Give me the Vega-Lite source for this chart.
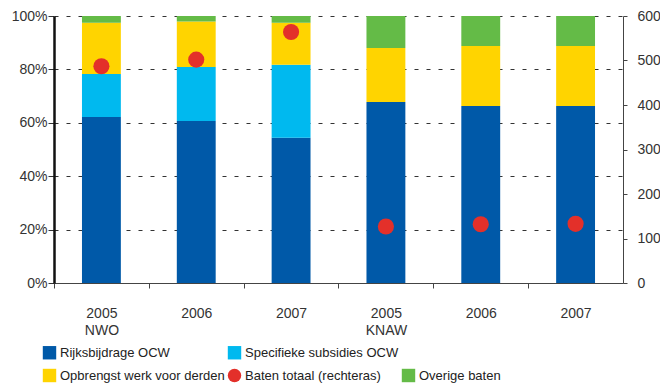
{
  "$schema": "https://vega.github.io/schema/vega-lite/v6.json",
  "width": 569,
  "height": 267,
  "autosize": {"type": "none"},
  "padding": {"left": 54, "top": 16, "right": 37, "bottom": 101},
  "background": "white",
  "config": {
    "view": {"stroke": null},
    "font": "Liberation Sans"
  },
  "data": {
    "values": [
      {"key": "NWO-2005", "series": "Rijksbijdrage OCW", "rank": 1, "pct": 62.2},
      {"key": "NWO-2005", "series": "Specifieke subsidies OCW", "rank": 2, "pct": 16.1},
      {"key": "NWO-2005", "series": "Opbrengst werk voor derden", "rank": 3, "pct": 19.2},
      {"key": "NWO-2005", "series": "Overige baten", "rank": 4, "pct": 2.5},
      {"key": "NWO-2006", "series": "Rijksbijdrage OCW", "rank": 1, "pct": 60.7},
      {"key": "NWO-2006", "series": "Specifieke subsidies OCW", "rank": 2, "pct": 20.2},
      {"key": "NWO-2006", "series": "Opbrengst werk voor derden", "rank": 3, "pct": 17.0},
      {"key": "NWO-2006", "series": "Overige baten", "rank": 4, "pct": 2.1},
      {"key": "NWO-2007", "series": "Rijksbijdrage OCW", "rank": 1, "pct": 54.4},
      {"key": "NWO-2007", "series": "Specifieke subsidies OCW", "rank": 2, "pct": 27.3},
      {"key": "NWO-2007", "series": "Opbrengst werk voor derden", "rank": 3, "pct": 15.8},
      {"key": "NWO-2007", "series": "Overige baten", "rank": 4, "pct": 2.5},
      {"key": "KNAW-2005", "series": "Rijksbijdrage OCW", "rank": 1, "pct": 67.8},
      {"key": "KNAW-2005", "series": "Opbrengst werk voor derden", "rank": 3, "pct": 20.2},
      {"key": "KNAW-2005", "series": "Overige baten", "rank": 4, "pct": 12.0},
      {"key": "KNAW-2006", "series": "Rijksbijdrage OCW", "rank": 1, "pct": 66.3},
      {"key": "KNAW-2006", "series": "Opbrengst werk voor derden", "rank": 3, "pct": 22.5},
      {"key": "KNAW-2006", "series": "Overige baten", "rank": 4, "pct": 11.2},
      {"key": "KNAW-2007", "series": "Rijksbijdrage OCW", "rank": 1, "pct": 66.3},
      {"key": "KNAW-2007", "series": "Opbrengst werk voor derden", "rank": 3, "pct": 22.5},
      {"key": "KNAW-2007", "series": "Overige baten", "rank": 4, "pct": 11.2},
      {"key": "NWO-2005", "series": "Baten totaal (rechteras)", "total": 487},
      {"key": "NWO-2006", "series": "Baten totaal (rechteras)", "total": 502},
      {"key": "NWO-2007", "series": "Baten totaal (rechteras)", "total": 564},
      {"key": "KNAW-2005", "series": "Baten totaal (rechteras)", "total": 127},
      {"key": "KNAW-2006", "series": "Baten totaal (rechteras)", "total": 132},
      {"key": "KNAW-2007", "series": "Baten totaal (rechteras)", "total": 133}
    ]
  },
  "encoding": {
    "x": {
      "field": "key",
      "type": "nominal",
      "sort": ["NWO-2005", "NWO-2006", "NWO-2007", "KNAW-2005", "KNAW-2006", "KNAW-2007"],
      "scale": {"paddingInner": 0.59, "paddingOuter": 0.295},
      "axis": {
        "title": null,
        "labelAngle": 0,
        "labelExpr": "datum.value === 'NWO-2005' ? ['2005', 'NWO'] : datum.value === 'KNAW-2005' ? ['2005', 'KNAW'] : slice(datum.value, -4)",
        "bandPosition": 0,
        "tickOffset": -28,
        "labelOffset": 28,
        "tickSize": 5,
        "tickColor": "#444",
        "domainColor": "#444",
        "labelFont": "Liberation Sans Narrow, Liberation Sans",
        "labelFontSize": 14,
        "labelColor": "#333",
        "labelPadding": 18,
        "labelLineHeight": 17,
        "labelBaseline": "top"
      }
    },
    "color": {
      "field": "series",
      "type": "nominal",
      "scale": {
        "domain": ["Rijksbijdrage OCW", "Opbrengst werk voor derden", "Specifieke subsidies OCW", "Baten totaal (rechteras)", " ", "Overige baten"],
        "range": ["#0059A8", "#FFD400", "#00B9EF", "#E3302A", "white", "#64BB47"]
      },
      "legend": {
        "orient": "none",
        "legendX": -12,
        "legendY": 329,
        "columns": 3,
        "title": null,
        "symbolType": "square",
        "symbolSize": 180,
        "labelFont": "Liberation Sans Narrow, Liberation Sans",
        "labelFontSize": 13,
        "labelColor": "#222",
        "labelOffset": 3,
        "labelLimit": 300,
        "rowPadding": 8,
        "columnPadding": 2,
        "gridAlign": "each",
        "encode": {
          "symbols": {
            "update": {
              "shape": {"signal": "datum.value === 'Baten totaal (rechteras)' ? 'circle' : 'square'"}
            }
          }
        }
      }
    }
  },
  "layer": [
    {
      "transform": [{"filter": "datum.pct != null"}],
      "mark": {"type": "bar"},
      "encoding": {
        "y": {
          "field": "pct",
          "type": "quantitative",
          "stack": "zero",
          "scale": {"domain": [0, 100], "nice": false},
          "axis": {
            "title": null,
            "values": [0, 20, 40, 60, 80, 100],
            "labelExpr": "datum.value + '%'",
            "grid": true,
            "gridDash": [4, 8],
            "gridColor": "#333",
            "domainColor": "#111",
            "domainWidth": 2.5,
            "tickColor": "#333",
            "tickSize": 6,
            "labelFontSize": 14,
            "labelColor": "#333",
            "labelPadding": 1
          }
        },
        "order": {"field": "rank", "type": "quantitative"}
      }
    },
    {
      "transform": [{"filter": "datum.total != null"}],
      "mark": {"type": "point", "filled": true, "size": 260, "opacity": 1},
      "encoding": {
        "y": {
          "field": "total",
          "type": "quantitative",
          "scale": {"domain": [0, 600], "nice": false},
          "axis": {
            "orient": "right",
            "title": null,
            "values": [0, 100, 200, 300, 400, 500, 600],
            "grid": false,
            "domainColor": "#444",
            "tickColor": "#444",
            "tickSize": 4,
            "labelFontSize": 14,
            "labelColor": "#333",
            "labelPadding": 10
          }
        }
      }
    }
  ],
  "resolve": {"scale": {"y": "independent"}}
}
